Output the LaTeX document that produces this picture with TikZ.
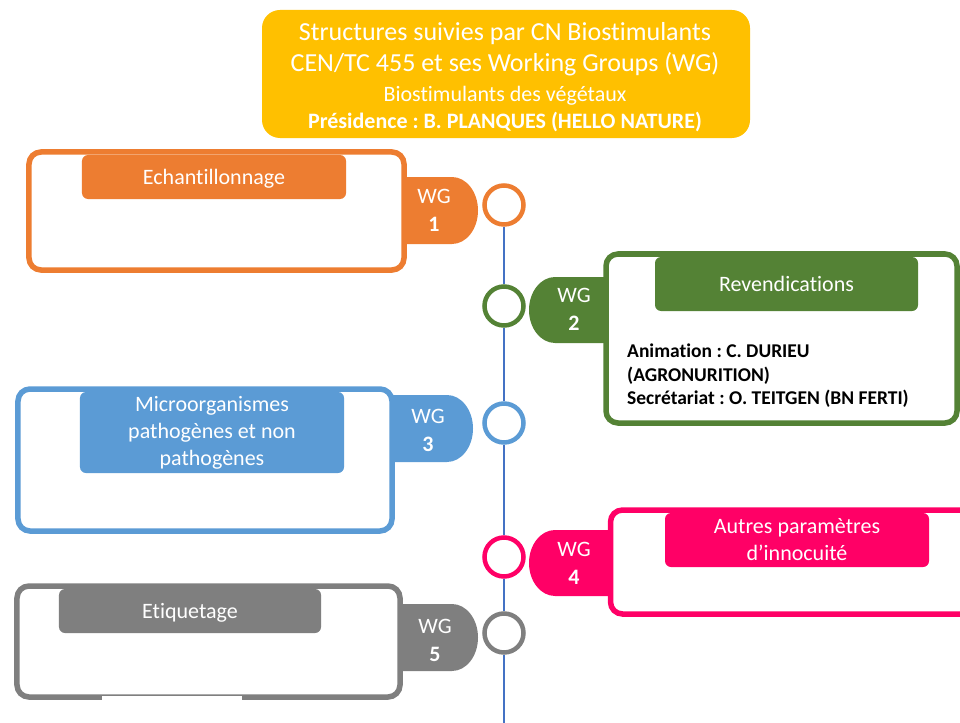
\documentclass[tikz,border=0pt]{standalone}
\usepackage{fontspec}
\setmainfont{Carlito}[Ligatures={NoCommon}]
\frenchspacing
\definecolor{wgyellow}{HTML}{FFC000}
\definecolor{wgorange}{HTML}{ED7D31}
\definecolor{wggreen}{HTML}{548235}
\definecolor{wgblue}{HTML}{5B9BD5}
\definecolor{wgpink}{HTML}{FF0066}
\definecolor{wggray}{HTML}{7F7F7F}
\definecolor{axisblue}{HTML}{4472C4}
\newcommand{\sizebig}{\fontsize{26bp}{31bp}\selectfont}
\newcommand{\sizemid}{\fontsize{22bp}{27bp}\selectfont}
\newcommand{\sizetab}{\fontsize{22bp}{28bp}\selectfont}
\newcommand{\sizebody}{\fontsize{19.5bp}{23.5bp}\selectfont}
\begin{document}
\begin{tikzpicture}[x=1bp,y=-1bp,
  frame/.style={draw=#1, line width=5.5bp, rounded corners=12bp, fill=white, inner sep=0pt},
  header/.style={fill=#1, rounded corners=6bp, text=white, font=\sizemid, align=center, inner sep=0pt},
  oneline/.style={text height=14.2bp, text depth=0pt},
  ring/.style={circle, draw=#1, fill=white, line width=4.5bp, minimum size=39bp, inner sep=0pt},
  wglabel/.style={text=white, align=center, font=\sizetab, inner sep=0pt},
  axis/.style={draw=axisblue, line width=1.2bp},
  titleline/.style={text=white, inner sep=0pt}
]
\useasboundingbox (0,0) rectangle (960,723);
\clip (0,0) rectangle (960,723);

% ---- title block ----
\node[fill=wgyellow, rounded corners=18bp, minimum width=488bp, minimum height=128bp, inner sep=0pt] (title) at (506,74) {};
\node[titleline, font=\sizebig, text height=16.7bp, text depth=0pt] (t1) at (505,32) {Structures suivies par CN Biostimulants};
\node[titleline, font=\sizebig, text height=16.7bp, text depth=0pt] (t2) at (505,63) {CEN/TC 455 et ses Working Groups (WG)};
\node[titleline, font=\sizemid, oneline] (t3) at (505,94) {Biostimulants des végétaux};
\node[titleline, font=\sizemid\bfseries, oneline] (t4) at (505,121) {Présidence : B. PLANQUES (HELLO NATURE)};

% ---- WG 1 ----
\node[frame=wgorange, minimum width=375bp, minimum height=118bp] (b1) at (216.5,211) {};
\node[header=wgorange, oneline, minimum width=264bp, minimum height=44bp] (h1) at (214,177) {Echantillonnage};
\fill[wgorange] (404,177) -- (452,177) arc[start angle=-90, end angle=90, x radius=26, y radius=33.5] -- (404,244) -- cycle;
\node[wglabel] (l1) at (434,210) {WG\\\textbf{1}};

% ---- WG 2 ----
\node[frame=wggreen, minimum width=351bp, minimum height=169bp] (b2) at (781.5,338.5) {};
\node[header=wggreen, oneline, minimum width=263bp, minimum height=54bp] (h2) at (786.5,284) {Revendications};
\fill[wggreen] (606,277) -- (555,277) arc[start angle=-90, end angle=-270, x radius=26, y radius=33] -- (606,343) -- cycle;
\node[wglabel] (l2) at (574,309) {WG\\\textbf{2}};
\node[anchor=north west, inner sep=0pt, align=left, font=\sizebody\bfseries] (n2) at (627,343.7)
  {Animation : C. DURIEU\\(AGRONURITION)\\Secrétariat : O. TEITGEN (BN FERTI)};

% ---- WG 3 ----
\node[frame=wgblue, minimum width=374bp, minimum height=142bp] (b3) at (205,460) {};
\node[header=wgblue, minimum width=264bp, minimum height=81bp] (h3) at (212,432.5) {Microorganismes\\pathogènes et non\\pathogènes};
\fill[wgblue] (392,395) -- (447,395) arc[start angle=-90, end angle=90, x radius=26, y radius=33.5] -- (392,462) -- cycle;
\node[wglabel] (l3) at (428,430) {WG\\\textbf{3}};

% ---- WG 4 ----
\node[frame=wgpink, minimum width=380bp, minimum height=104bp] (b4) at (800.5,562) {};
\node[header=wgpink, minimum width=264bp, minimum height=54bp] (h4) at (797,540) {Autres paramètres\\d’innocuité};
\fill[wgpink] (610.5,530) -- (555,530) arc[start angle=-90, end angle=-270, x radius=26, y radius=33] -- (610.5,596) -- cycle;
\node[wglabel] (l4) at (574,563.5) {WG\\\textbf{4}};

% ---- WG 5 ----
\node[frame=wggray, minimum width=383bp, minimum height=111bp] (b5) at (208.5,641.5) {};
\node[header=wggray, oneline, minimum width=262bp, minimum height=44bp] (h5) at (190,611) {Etiquetage};
\fill[white] (102,695.5) rectangle (242,703);
\fill[wggray] (400,604) -- (452,604) arc[start angle=-90, end angle=90, x radius=26, y radius=33.5] -- (400,671) -- cycle;
\node[wglabel] (l5) at (435,640) {WG\\\textbf{5}};

% ---- timeline ----
\node[ring=wgorange] (c1) at (504,205) {};
\node[ring=wggreen]  (c2) at (504,306) {};
\node[ring=wgblue]   (c3) at (504,423) {};
\node[ring=wgpink]   (c4) at (504,557) {};
\node[ring=wggray]   (c5) at (504,633) {};
\coordinate (axisend) at (504,730);
\draw[axis] (c1) -- (c2);
\draw[axis] (c2) -- (c3);
\draw[axis] (c3) -- (c4);
\draw[axis] (c4) -- (c5);
\draw[axis] (c5) -- (axisend);
\end{tikzpicture}
\end{document}
